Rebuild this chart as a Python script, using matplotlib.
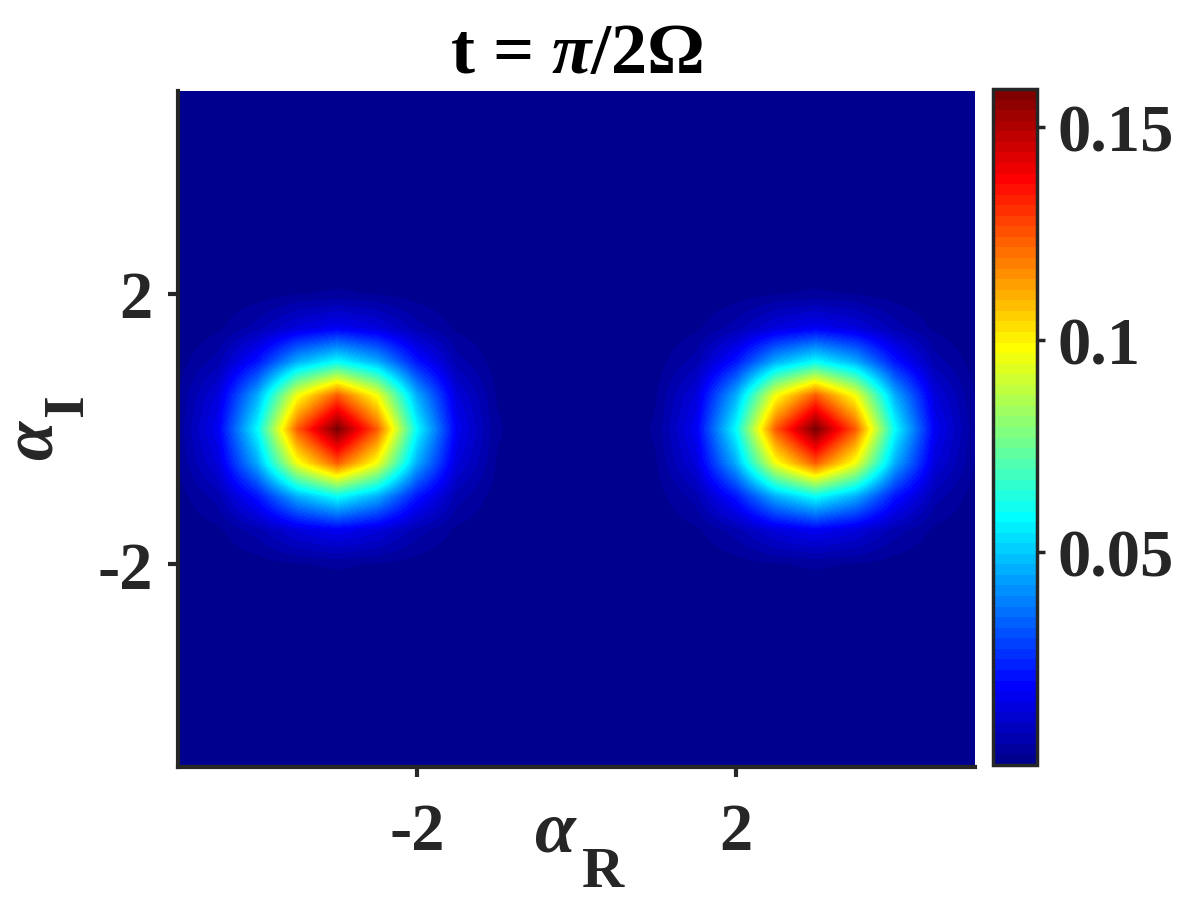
import numpy as np
import matplotlib
matplotlib.use("Agg")
import matplotlib.pyplot as plt
from matplotlib.colors import ListedColormap

# grid of the phase-space plot (alpha_R across, alpha_I up), step 0.5
ALPHA_R = np.linspace(-5, 5, 21)
ALPHA_I = np.linspace(-5, 5, 21)
STEP = 0.5
# the two blobs (centre alpha_R, centre alpha_I)
PEAKS = [(-3.0, 0.0), (3.0, 0.0)]
# Q read around a blob centre, indexed by |grid offset| (rows: alpha_I, cols: alpha_R)
Q_QUARTER = [
    [0.159, 0.124, 0.0586, 0.0168, 0.0029, 0.0003],
    [0.124, 0.0966, 0.0456, 0.0131, 0.0023, 0.0002],
    [0.0586, 0.0456, 0.0215, 0.0062, 0.0011, 0.0001],
    [0.0168, 0.0131, 0.0062, 0.0018, 0.0003, 0.0],
    [0.0029, 0.0023, 0.0011, 0.0003, 0.0001, 0.0],
    [0.0003, 0.0002, 0.0001, 0.0, 0.0, 0.0],
]
CBAR_TICKS = [0.05, 0.1, 0.15]
CBAR_LABELS = ['0.05', '0.1', '0.15']

Q = np.zeros((len(ALPHA_I), len(ALPHA_R)))
for cx, cy in PEAKS:
    for iy, y in enumerate(ALPHA_I):
        for ix, x in enumerate(ALPHA_R):
            di, dj = int(round(abs(y - cy) / STEP)), int(round(abs(x - cx) / STEP))
            if di < len(Q_QUARTER) and dj < len(Q_QUARTER):
                Q[iy, ix] += Q_QUARTER[di][dj]


def matlab_jet(m=64):
    n = int(np.ceil(m / 4))
    u = np.r_[np.arange(1, n + 1) / n, np.ones(n - 1), np.arange(n, 0, -1) / n]
    g = int(np.ceil(n / 2)) - (m % 4 == 1) + np.arange(1, len(u) + 1)
    r, b = g + n, g - n
    J = np.zeros((m, 3))
    k = r <= m; J[r[k] - 1, 0] = u[k]
    k = g <= m; J[g[k] - 1, 1] = u[k]
    k = b >= 1; J[b[k] - 1, 2] = u[k]
    return ListedColormap(J)


plt.rcParams['font.family'] = ['Liberation Serif', 'DejaVu Serif']
plt.rcParams['font.weight'] = 'bold'
plt.rcParams['axes.unicode_minus'] = False
plt.rcParams['mathtext.fontset'] = 'custom'
plt.rcParams['mathtext.rm'] = 'Liberation Serif:bold'
plt.rcParams['mathtext.it'] = 'Liberation Serif:italic:bold'
plt.rcParams['mathtext.bf'] = 'Liberation Serif:bold'
INK = '#262626'

fig = plt.figure(figsize=(12.03, 9.03), dpi=100)
ax = fig.add_axes([178 / 1203, 1 - 768 / 903, 797 / 1203, 676 / 903])
h = STEP / 2
im = ax.imshow(Q, origin='lower', cmap=matlab_jet(64), aspect='auto',
               interpolation='bilinear', interpolation_stage='data',
               vmin=0, vmax=Q.max(),
               extent=[ALPHA_R[0] - h, ALPHA_R[-1] + h, ALPHA_I[0] - h, ALPHA_I[-1] + h])
ax.set_xlim(ALPHA_R[0], ALPHA_R[-1])
ax.set_ylim(ALPHA_I[0], ALPHA_I[-1])

for s in ['top', 'right']:
    ax.spines[s].set_visible(False)
for s in ['left', 'bottom']:
    ax.spines[s].set_linewidth(3)
    ax.spines[s].set_color(INK)
ax.set_xticks([-2, 2], ['-2', '2'])
ax.set_yticks([-2, 2], ['-2', '2'])
ax.tick_params(direction='out', length=7, width=3, color=INK, labelcolor=INK,
               labelsize=48)
ax.tick_params(axis='x', pad=18)
ax.tick_params(axis='y', pad=11)

# axis labels: italic alpha with a large bold subscript
ax.text(0.474, -0.124, r'$\alpha$', transform=ax.transAxes, fontsize=53,
        color=INK, ha='center', va='baseline')
ax.text(0.533, -0.176, 'R', transform=ax.transAxes, fontsize=42,
        color=INK, ha='center', va='baseline')
ax.text(-0.158, 0.485, r'$\alpha$', transform=ax.transAxes, fontsize=51,
        color=INK, ha='center', va='baseline', rotation=90, rotation_mode='anchor')
ax.text(-0.12, 0.537, 'I', transform=ax.transAxes, fontsize=42,
        color=INK, ha='center', va='baseline', rotation=90, rotation_mode='anchor')

ax.set_title(r't = $\pi$/2Ω', fontsize=52, fontweight='bold', color='black', pad=14)

cax = fig.add_axes([993 / 1203, 1 - 766 / 903, 44 / 1203, 676 / 903])
cb = fig.colorbar(im, cax=cax)
cb.set_ticks(CBAR_TICKS, labels=CBAR_LABELS)
cb.outline.set_linewidth(2.5)
cb.outline.set_edgecolor(INK)
cax.tick_params(direction='out', length=6, width=2.5, color=INK, labelcolor=INK,
                labelsize=48, pad=9)

fig.savefig("out.png", dpi=100)
